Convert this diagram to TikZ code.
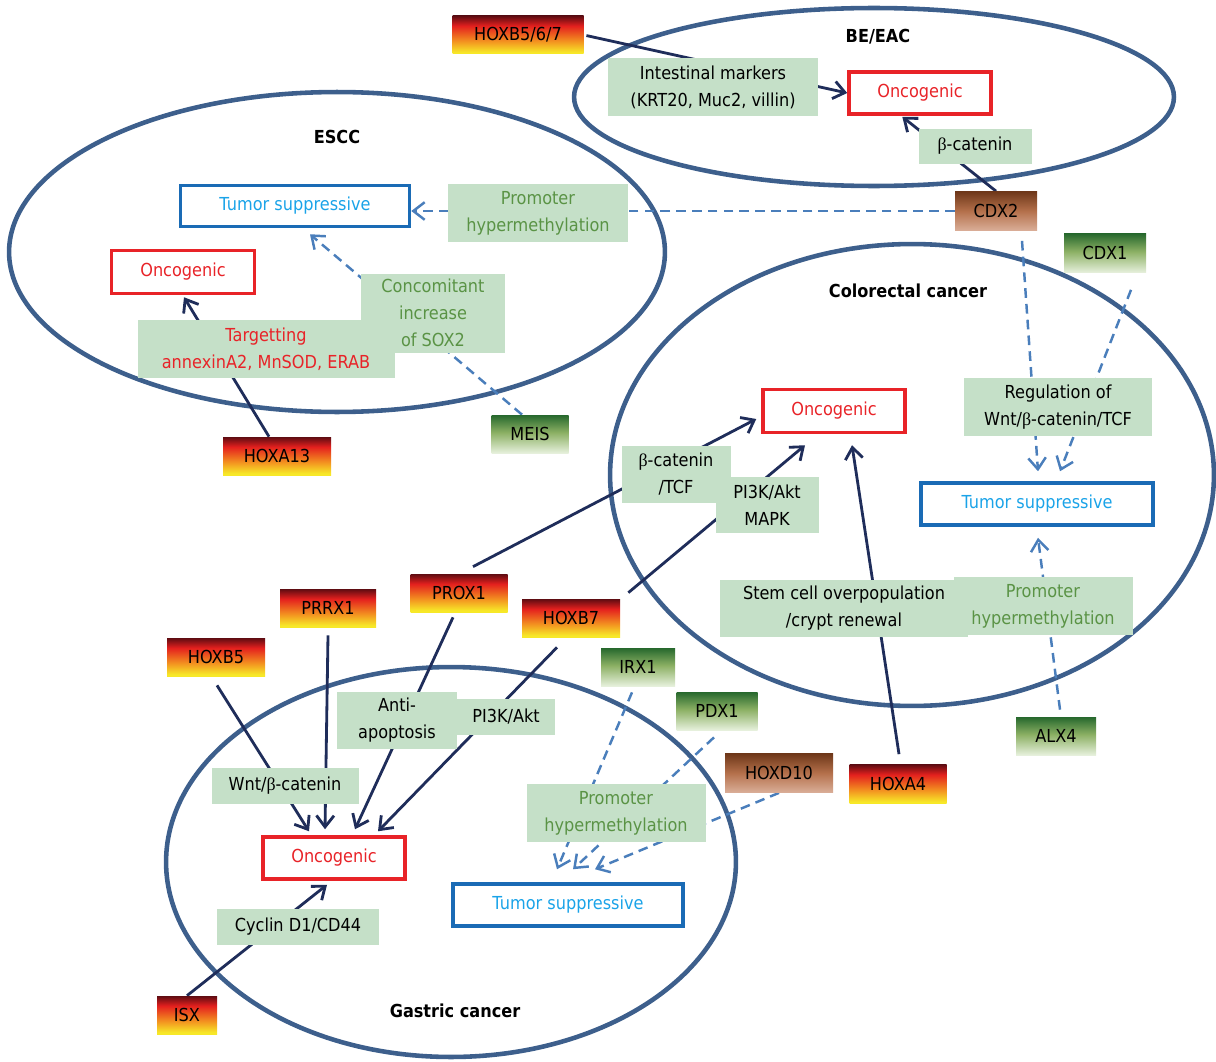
\documentclass[tikz,border=0pt]{standalone}
\usepackage{fontspec}
\setmainfont{DejaVu Sans}[FakeStretch=0.9]
\newfontfamily\betafont{Liberation Serif}
\usetikzlibrary{arrows.meta,calc}
\definecolor{ellcol}{RGB}{61,95,140}
\definecolor{navy}{RGB}{31,45,90}
\definecolor{dashcol}{RGB}{74,126,187}
\definecolor{labfill}{RGB}{197,224,200}
\definecolor{gtext}{RGB}{90,147,69}
\definecolor{tsborder}{RGB}{26,107,181}
\definecolor{tstext}{RGB}{26,163,232}
\definecolor{oncred}{RGB}{232,35,40}
\definecolor{gY}{RGB}{247,232,40}
\definecolor{gO}{RGB}{243,146,32}
\definecolor{gR}{RGB}{228,32,30}
\definecolor{gD}{RGB}{95,12,18}
\definecolor{grL}{RGB}{230,240,220}
\definecolor{grM}{RGB}{140,176,100}
\definecolor{grD}{RGB}{38,104,45}
\definecolor{brL}{RGB}{218,174,152}
\definecolor{brM}{RGB}{180,112,75}
\definecolor{brD}{RGB}{110,55,25}
\pgfdeclareverticalshading{redgrad}{100bp}{color(0bp)=(gY); color(27bp)=(gY); color(42bp)=(gO); color(62bp)=(gR); color(75bp)=(gD); color(100bp)=(gD)}
\pgfdeclareverticalshading{greengrad}{100bp}{color(0bp)=(grL); color(25bp)=(grL); color(52bp)=(grM); color(75bp)=(grD); color(100bp)=(grD)}
\pgfdeclareverticalshading{browngrad}{100bp}{color(0bp)=(brL); color(25bp)=(brL); color(50bp)=(brM); color(75bp)=(brD); color(100bp)=(brD)}
\pgfdeclarelayer{bg}
\pgfsetlayers{bg,main}
\newcommand{\bet}{{\betafont β}}
\tikzset{
 box/.style={inner sep=0pt, align=center},
 sz/.style 2 args={minimum width=#1*0.02cm, minimum height=#2*0.02cm},
 lab/.style={box, fill=labfill},
 glab/.style={lab, text=gtext},
 gred/.style={box, shade, shading=redgrad},
 ggreen/.style={box, shade, shading=greengrad},
 gbrown/.style={box, shade, shading=browngrad},
 onc/.style={box, draw=oncred, line width=2pt, text=oncred},
 ts/.style={box, draw=tsborder, line width=2pt, text=tstext},
 ell/.style={draw=ellcol, line width=2.6pt},
 ttl/.style={font=\fontsize{10.2}{15.3}\selectfont\bfseries},
 arr/.style={draw=navy, line width=1.6pt, -{Straight Barb[length=6.5pt,width=10pt]}},
 darr/.style={draw=dashcol, line width=1.4pt, dash pattern=on 5.5pt off 3.5pt, -{Straight Barb[length=6.5pt,width=10pt]}}
}
\begin{document}
\begin{tikzpicture}[x=0.02cm, y=-0.02cm, font=\fontsize{10.2}{15.3}\selectfont]
\useasboundingbox (0,0) rectangle (1216,1061);

% titles
\node[ttl] (tBE) at (878,37) {BE/EAC};
\node[ttl] (tESCC) at (337,137) {ESCC};
\node[ttl] (tCRC) at (908,291) {Colorectal cancer};
\node[ttl] (tG) at (455,1011) {Gastric cancer};

% BE/EAC
\node[gred, sz={131}{38}] (hoxb567) at (518,35) {HOXB5/6/7};
\node[onc, sz={142}{42}] (oncBE) at (920,93) {Oncogenic};
\node[lab, sz={210}{57}] (intest) at (713,87) {Intestinal markers\\(KRT20, Muc2, villin)};
\node[lab, sz={113}{35}] (bcat) at (975,146) {\bet-catenin};
\node[gbrown, sz={82}{39}] (cdx2) at (996,211) {CDX2};

% ESCC
\node[ts, sz={229}{41}] (tsESCC) at (295,206) {Tumor suppressive};
\node[onc, sz={143}{43}] (oncESCC) at (183,272) {Oncogenic};
\node[lab, sz={257}{58}, text=oncred] (targ) at (266,349) {Targetting\\annexinA2, MnSOD, ERAB};
\node[glab, sz={144}{79}] (conc) at (433,313) {Concomitant\\increase\\of SOX2};
\node[glab, sz={180}{58}] (promESCC) at (538,213) {Promoter\\hypermethylation};
\node[gred, sz={108}{38}] (hoxa13) at (277,456) {HOXA13};
\node[ggreen, sz={77}{38}] (meis) at (530,434) {MEIS};

% Colorectal
\node[ggreen, sz={82}{39}] (cdx1) at (1105,253) {CDX1};
\node[lab, sz={188}{58}] (regul) at (1058,407) {Regulation of\\Wnt/\bet-catenin/TCF};
\node[ts, sz={232}{42}] (tsCRC) at (1037,504) {Tumor suppressive};
\node[glab, sz={179}{58}] (promCRC) at (1043,606) {Promoter\\hypermethylation};
\node[ggreen, sz={80}{38}] (alx4) at (1056,736) {ALX4};
\node[onc, sz={142}{43}] (oncCRC) at (834,411) {Oncogenic};
\node[lab, sz={109}{57}] (bcattcf) at (676,474) {\bet-catenin\\/TCF};
\node[lab, sz={103}{56}] (pi3kmapk) at (767,505) {PI3K/Akt\\MAPK};
\node[lab, sz={248}{57}] (stem) at (844,608) {Stem cell overpopulation\\/crypt renewal};
\node[gred, sz={97}{39}] (hoxa4) at (898,784) {HOXA4};
\node[gred, sz={97}{38}] (prox1) at (459,593) {PROX1};
\node[gred, sz={98}{38}] (hoxb7) at (571,618) {HOXB7};

% Gastric
\node[gred, sz={96}{38}] (prrx1) at (328,608) {PRRX1};
\node[gred, sz={98}{38}] (hoxb5) at (216,657) {HOXB5};
\node[ggreen, sz={74}{38}] (irx1) at (638,667) {IRX1};
\node[ggreen, sz={81}{38}] (pdx1) at (717,711) {PDX1};
\node[gbrown, sz={108}{39}] (hoxd10) at (779,773) {HOXD10};
\node[lab, sz={120}{57}] (anti) at (397,720) {Anti-\\apoptosis};
\node[lab, sz={98}{36}] (pi3kG) at (506,717) {PI3K/Akt};
\node[lab, sz={147}{36}] (wnt) at (285,786) {Wnt/\bet-catenin};
\node[onc, sz={142}{42}] (oncG) at (334,858) {Oncogenic};
\node[ts, sz={230}{42}] (tsG) at (568,905) {Tumor suppressive};
\node[glab, sz={179}{58}] (promG) at (616,813) {Promoter\\hypermethylation};
\node[lab, sz={162}{36}] (cyclin) at (298,927) {Cyclin D1/CD44};
\node[gred, sz={60}{38}] (isx) at (187,1015) {ISX};

\begin{pgfonlayer}{bg}
\draw[ell] (874,97) ellipse [x radius=6cm, y radius=1.78cm];
\draw[ell] (337,252) ellipse [x radius=6.56cm, y radius=3.2cm];
\draw[ell] (912,475) ellipse [x radius=6.04cm, y radius=4.62cm];
\draw[ell] (451,862) ellipse [x radius=5.7cm, y radius=3.9cm];

% BE/EAC
\draw[arr, shorten <=1.5pt] (hoxb567.east) -- (oncBE.west);
\draw[arr] (cdx2.north) -- ($(oncBE.south west)+(55,1)$);
\draw[darr] (cdx2.west) -- (cdx2.west -| tsESCC.east);
% ESCC
\draw[arr] ($(hoxa13.north)+(-8,0)$) -- ($(oncESCC.south)+(1,2)$);
\draw[darr] ($(meis.north)+(-8,0)$) -- ($(tsESCC.south)+(15,6)$);
% Colorectal
\draw[darr] ($(cdx2.south)+(26,10)$) -- ($(tsCRC.north)+(1,-10)$);
\draw[darr] ($(cdx1.south)+(26,17)$) -- ($(tsCRC.north)+(23,-10)$);
\draw[darr] ($(alx4.north)+(4,-7)$) -- ($(tsCRC.south)+(1,11)$);
\draw[arr] ($(prox1.north)+(14,-7)$) -- ($(oncCRC.west)+(-5,8)$);
\draw[arr] ($(hoxb7.north east)+(8,-6)$) -- ($(oncCRC.south)+(-29,11)$);
\draw[arr] ($(hoxa4.north)+(1,-10)$) -- ($(oncCRC.south)+(18,11)$);
% Gastric
\draw[arr] ($(hoxb5.south)+(1,9)$) -- ($(oncG.north)+(-25,-4)$);
\draw[arr] ($(prrx1.south)+(0,8)$) -- ($(oncG.north)+(-9,-6)$);
\draw[arr] ($(prox1.south)+(-6,5)$) -- ($(oncG.north)+(21,-6)$);
\draw[arr] ($(hoxb7.south)+(-14,10)$) -- ($(oncG.north)+(44,-4)$);
\draw[arr] (isx.north) -- ($(oncG.south)+(-7,4)$);
\draw[darr] ($(irx1.south)+(-6,6)$) -- ($(tsG.north)+(-11,-13)$);
\draw[darr] ($(pdx1.south)+(-3,7)$) -- ($(tsG.north)+(5,-13)$);
\draw[darr] (hoxd10.south) -- ($(tsG.north)+(27,-13)$);
\end{pgfonlayer}
\end{tikzpicture}
\end{document}
